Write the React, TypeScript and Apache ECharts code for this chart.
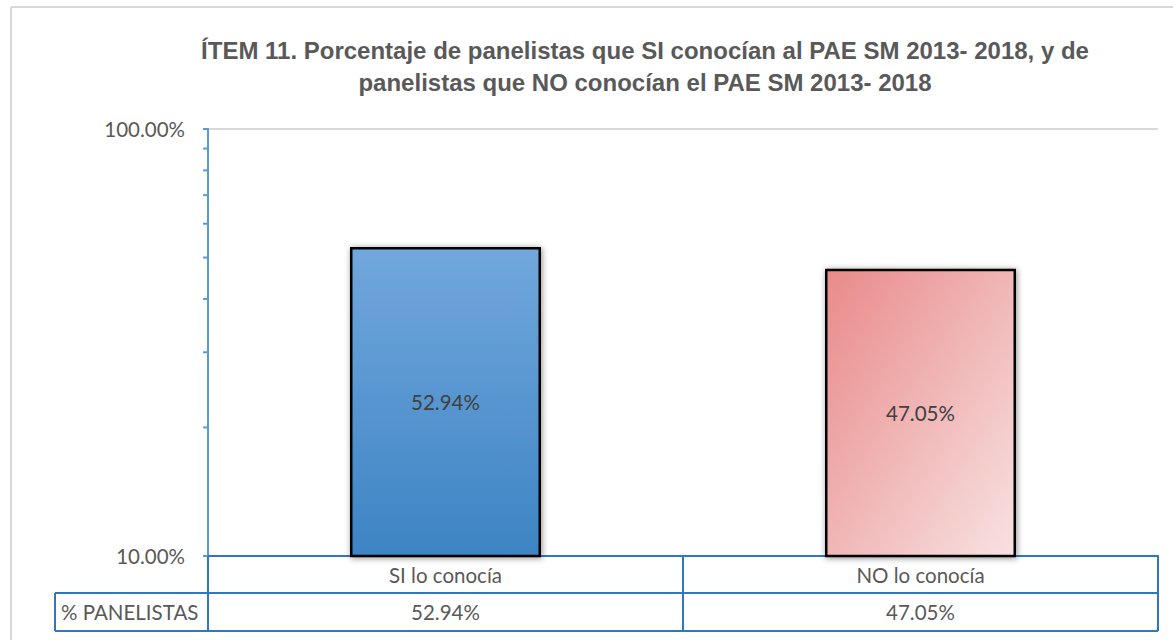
import React, { useEffect, useRef } from "react";
import * as echarts from "echarts";

const categories = ["SI lo conocía", "NO lo conocía"];
const values = [52.94, 47.05];
const rowLabel = "% PANELISTAS";
const minorTickValues = [20, 30, 40, 50, 60, 70, 80, 90];
const titleText =
  "ÍTEM 11. Porcentaje de panelistas que SI conocían al PAE SM 2013- 2018, y de\npanelistas que NO conocían el PAE SM 2013- 2018";

const fmt = (v: number) => v.toFixed(2) + "%";

export default function App() {
  const ref = useRef<HTMLDivElement>(null);
  useEffect(() => {
    if (!ref.current) return;
    const chart = echarts.init(ref.current, undefined, { renderer: "svg" });
    const tableBlue = "#2E78C2";
    const labelFont = "Lato, 'Open Sans', sans-serif";
    const fs = 20.5;
    const barStyles = [
      {
        color: new echarts.graphic.LinearGradient(0, 0, 0, 1, [
          { offset: 0, color: "#71A7DC" },
          { offset: 1, color: "#3D84C4" },
        ]),
      },
      {
        color: new echarts.graphic.LinearGradient(0, 0, 1, 1, [
          { offset: 0, color: "#E98A8A" },
          { offset: 1, color: "#F8E2E2" },
        ]),
      },
    ];
    chart.setOption({
      animation: false,
      title: {
        text: titleText,
        left: 640,
        top: 29,
        textAlign: "center",
        textStyle: {
          fontFamily: "'Liberation Sans Narrow', 'Arial Narrow', 'Liberation Sans', sans-serif",
          fontWeight: "bold",
          fontSize: 24,
          lineHeight: 32,
          color: "#595959",
        },
      },
      grid: { left: 208, right: 15, top: 129, bottom: 84 },
      xAxis: [
        {
          type: "category",
          data: categories,
          position: "bottom",
          axisLine: { show: true, lineStyle: { color: tableBlue, width: 2 } },
          axisTick: {
            show: true,
            alignWithLabel: false,
            interval: 0,
            length: 75,
            lineStyle: { color: tableBlue, width: 2 },
          },
          axisLabel: {
            margin: 8,
            fontSize: fs,
            color: "#595959",
            fontFamily: labelFont,
          },
        },
        {
          type: "category",
          data: values.map(fmt),
          position: "bottom",
          axisLine: { show: false },
          axisTick: { show: false },
          axisLabel: {
            margin: 45,
            fontSize: fs,
            color: "#595959",
            fontFamily: labelFont,
          },
        },
      ],
      yAxis: {
        type: "log",
        logBase: 10,
        min: 10,
        max: 100,
        axisLine: { show: true, lineStyle: { color: "#5B9BD5", width: 2 } },
        axisTick: { show: true, length: 5, lineStyle: { color: "#5B9BD5", width: 2 } },
        splitLine: { show: true, lineStyle: { color: "#D9D9D9", width: 2 } },
        axisLabel: {
          formatter: (v: number) => fmt(v),
          margin: 23,
          fontSize: fs,
          color: "#595959",
          fontFamily: labelFont,
        },
      },
      series: [
        {
          type: "bar",
          xAxisIndex: 0,
          barWidth: 191,
          data: values.map((v, i) => ({
            value: v,
            itemStyle: {
              ...barStyles[i],
              borderColor: "#000000",
              borderWidth: 2.5,
              shadowBlur: 6,
              shadowColor: "rgba(0,0,0,0.45)",
              shadowOffsetX: 1,
              shadowOffsetY: 1,
            },
          })),
          label: {
            show: true,
            position: "inside",
            formatter: (p: any) => fmt(p.value),
            fontSize: fs,
            color: "#404040",
            fontFamily: labelFont,
          },
        },
      ],
    });

    const xLeft = 208;
    const xRight = chart.getWidth() - 15;
    const yBase = chart.convertToPixel({ yAxisIndex: 0 }, 10) as number;
    const minor = minorTickValues.map((v) => {
      const y = chart.convertToPixel({ yAxisIndex: 0 }, v) as number;
      return {
        type: "line",
        shape: { x1: xLeft - 5, y1: y, x2: xLeft, y2: y },
        style: { stroke: "#5B9BD5", lineWidth: 2 },
      };
    });
    const row1 = yBase + 37;
    const row2 = yBase + 75;
    chart.setOption({
      graphic: [
        {
          type: "line",
          shape: { x1: 11, y1: 7, x2: 11, y2: 700 },
          style: { stroke: "#D9D9D9", lineWidth: 2 },
        },
        {
          type: "line",
          shape: { x1: 11, y1: 7, x2: 1200, y2: 7 },
          style: { stroke: "#D9D9D9", lineWidth: 2 },
        },
        ...minor,
        {
          type: "line",
          shape: { x1: 55, y1: row1, x2: xRight, y2: row1 },
          style: { stroke: tableBlue, lineWidth: 2 },
        },
        {
          type: "line",
          shape: { x1: 55, y1: row2, x2: xRight, y2: row2 },
          style: { stroke: tableBlue, lineWidth: 2 },
        },
        {
          type: "line",
          shape: { x1: 55, y1: row1, x2: 55, y2: row2 },
          style: { stroke: tableBlue, lineWidth: 2 },
        },
        {
          type: "line",
          shape: { x1: xRight, y1: yBase, x2: xRight, y2: row2 },
          style: { stroke: tableBlue, lineWidth: 2 },
        },
        {
          type: "text",
          x: 61,
          y: (row1 + row2) / 2,
          style: {
            text: rowLabel,
            fontSize: fs,
            fill: "#595959",
            fontFamily: labelFont,
            verticalAlign: "middle",
          },
        },
      ],
    });
    return () => chart.dispose();
  }, []);
  return (
    <div
      ref={ref}
      style={{ position: "fixed", left: 0, top: 0, width: 1173, height: 640, background: "#fff" }}
    />
  );
}
